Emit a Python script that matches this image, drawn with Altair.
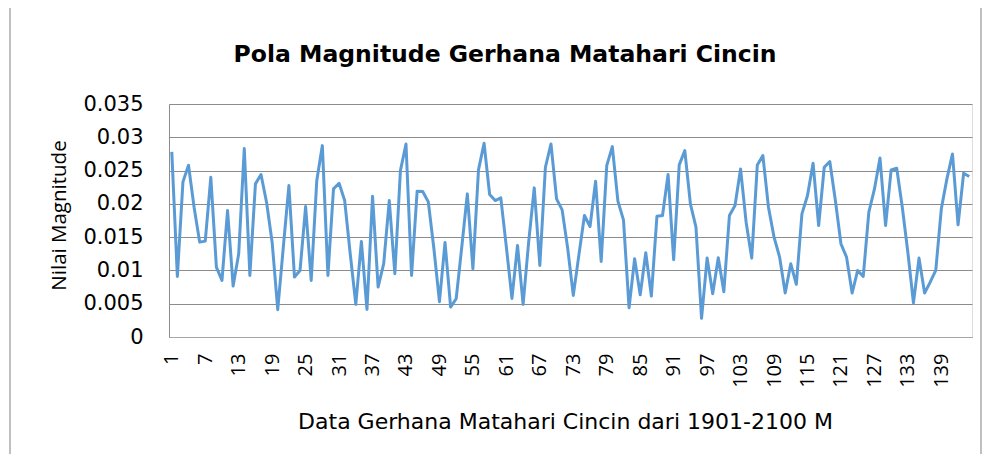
import altair as alt
import pandas as pd

values = [
    0.0278, 0.0091, 0.0233, 0.0258, 0.0195, 0.01425, 0.0144, 0.0240, 0.0105, 0.0085,
    0.0190, 0.00765, 0.0125, 0.0283, 0.00925, 0.0230, 0.0244, 0.0202, 0.0142, 0.0041,
    0.0135, 0.02275, 0.0090, 0.0100, 0.0196, 0.0085, 0.0235, 0.02875, 0.00925, 0.02225,
    0.0231, 0.0205, 0.0125, 0.0049, 0.01435, 0.00415, 0.02115, 0.0075, 0.0110, 0.0205,
    0.0095, 0.0250, 0.0290, 0.00925, 0.0219, 0.02185, 0.0203, 0.0133, 0.0053, 0.0142,
    0.0045, 0.00575, 0.0135, 0.0215, 0.01025, 0.0251, 0.0291, 0.0214, 0.0205, 0.0209,
    0.0135, 0.0058, 0.01375, 0.0049, 0.0143, 0.0224, 0.01075, 0.0255, 0.0290, 0.02075,
    0.0191, 0.0133, 0.00625, 0.0123, 0.01825, 0.0166, 0.0234, 0.01135, 0.02575, 0.0286,
    0.0204, 0.0176, 0.0044, 0.01175, 0.00635, 0.01265, 0.00615, 0.01815, 0.01825, 0.0244,
    0.0116, 0.02585, 0.0280, 0.0200, 0.0165, 0.0028, 0.01185, 0.0065, 0.0119, 0.0068,
    0.01825, 0.01975, 0.02525, 0.0172, 0.01185, 0.02585, 0.02725, 0.0195, 0.0150, 0.0120,
    0.0066, 0.0110, 0.0079, 0.0185, 0.02125, 0.0261, 0.01675, 0.0255, 0.02635, 0.0205,
    0.0140, 0.0120, 0.0066, 0.0100, 0.0091, 0.01875, 0.0222, 0.0269, 0.01675, 0.0251,
    0.02535, 0.0195, 0.0127, 0.00515, 0.01185, 0.0066, 0.00825, 0.0100, 0.01925, 0.02375,
    0.0275, 0.01685, 0.0246, 0.0241,
]
index = list(range(1, len(values) + 1))
x_ticks = list(range(1, 145, 6))
y_ticks = [0, 0.005, 0.01, 0.015, 0.02, 0.025, 0.03, 0.035]
chart_title = ["Pola Magnitude Gerhana Matahari Cincin"]

df = pd.DataFrame({"n": index, "v": values})

HFONT = "DejaVu Sans"
VFONT = "Open Sans"

line = alt.Chart(df).mark_line(color="#5B9BD5", strokeWidth=3, strokeJoin="round").encode(
    x=alt.X("n:Q", scale=alt.Scale(domain=[0.5, 144.5], nice=False, zero=False),
            axis=alt.Axis(values=x_ticks, labelAngle=-90, labelAlign="right", labelBaseline="middle",
                          labelPadding=16, ticks=False, grid=False, domain=True, domainColor="#a6a6a6",
                          labelFontSize=20, labelFont=VFONT, labelColor="#000000", labelOverlap=False,
                          title="Data Gerhana Matahari Cincin dari 1901-2100 M", titleFont=HFONT,
                          titleFontSize=22, titleFontWeight="normal", titleColor="#000000",
                          titlePadding=24, titleX=396)),
    y=alt.Y("v:Q", scale=alt.Scale(domain=[0, 0.035], nice=False),
            axis=alt.Axis(values=y_ticks, format="~g", labelPadding=26, ticks=False, grid=True,
                          gridColor="#8c8c8c", gridWidth=1, domain=True, domainColor="#8c8c8c",
                          labelFontSize=21, labelFont=HFONT, labelColor="#000000",
                          title="Nilai Magnitude", titleFont=VFONT, titleFontSize=20.5,
                          titleFontWeight="normal", titleColor="#000000", titlePadding=13,
                          titleY=111)),
)

frame = alt.Chart(df).mark_rect(fill=None, stroke="#bfbfbf", strokeWidth=1).encode(
    x=alt.value(-159), x2=alt.value(812), y=alt.value(-103), y2=alt.value(355)
)

title = alt.Chart(pd.DataFrame({"t": chart_title})).mark_text(
    font=HFONT, fontSize=23.5, fontWeight="bold", color="#000000", align="center", baseline="alphabetic"
).encode(text="t:N", x=alt.value(336), y=alt.value(-42))

chart = alt.layer(line, frame, title).properties(
    width=803,
    height=233,
    padding={"left": 161, "top": 96, "right": 12, "bottom": 117},
    autosize=alt.AutoSizeParams(type="none"),
).configure_view(stroke=None).configure(background="white")

chart.save("out.html", embed_options={"renderer": "svg", "actions": False})
